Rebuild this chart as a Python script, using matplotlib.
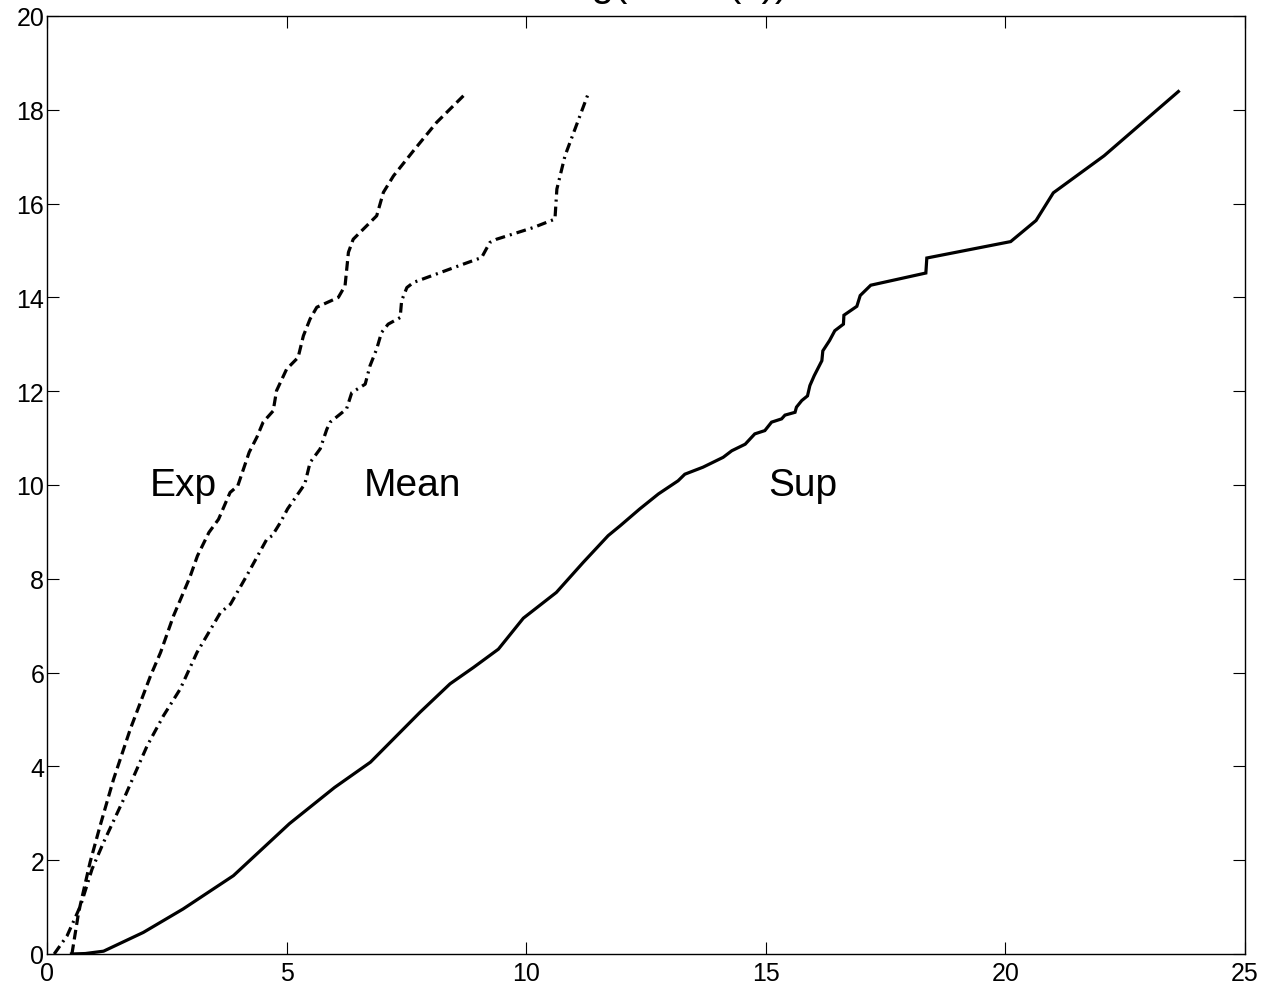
import matplotlib
matplotlib.use('Agg')
import matplotlib.pyplot as plt

# data
sup_x = [0.51, 0.80, 1.18, 2.01, 2.84, 3.89, 5.06, 6.00, 6.75, 7.78, 8.41, 8.90, 9.42, 9.94,
         10.63, 11.19, 11.71, 11.96, 12.37, 12.76, 13.17, 13.31, 13.69, 14.11, 14.29, 14.57,
         14.77, 14.98, 15.12, 15.33, 15.40, 15.61, 15.64, 15.75, 15.87, 15.92, 16.01, 16.08,
         16.17, 16.19, 16.33, 16.44, 16.62, 16.63, 16.90, 16.97, 17.19, 18.34, 18.36, 20.11,
         20.64, 21.00, 22.06, 23.61]
sup_y = [0.00, 0.01, 0.06, 0.46, 0.96, 1.67, 2.78, 3.55, 4.09, 5.15, 5.76, 6.11, 6.50, 7.16,
         7.71, 8.35, 8.92, 9.13, 9.49, 9.81, 10.09, 10.23, 10.38, 10.59, 10.73, 10.87,
         11.09, 11.16, 11.34, 11.41, 11.49, 11.55, 11.66, 11.80, 11.90, 12.12, 12.33, 12.47,
         12.65, 12.86, 13.08, 13.29, 13.43, 13.62, 13.81, 14.04, 14.26, 14.52, 14.84, 15.19,
         15.64, 16.23, 17.02, 18.39]

exp_x = [0.52, 0.66, 0.90, 1.11, 1.39, 1.74, 2.16, 2.37, 2.64, 2.98, 3.14, 3.38, 3.58, 3.82,
         3.98, 4.22, 4.38, 4.51, 4.72, 4.79, 5.00, 5.24, 5.35, 5.49, 5.63, 6.08, 6.22, 6.29,
         6.39, 6.88, 7.02, 7.23, 7.51, 7.65, 8.13, 8.76]
exp_y = [0.00, 0.89, 1.96, 2.74, 3.73, 4.80, 5.93, 6.43, 7.21, 8.03, 8.49, 8.99, 9.27, 9.84,
         9.98, 10.70, 11.02, 11.34, 11.58, 12.01, 12.47, 12.72, 13.18, 13.54, 13.79, 14.00,
         14.25, 14.96, 15.24, 15.74, 16.24, 16.59, 16.95, 17.13, 17.73, 18.37]

mean_x = [0.15, 0.42, 0.70, 0.94, 1.18, 1.60, 2.09, 2.43, 2.78, 3.13, 3.62, 3.83, 4.17, 4.59,
          4.70, 4.87, 5.02, 5.21, 5.38, 5.49, 5.70, 5.84, 5.91, 6.25, 6.36, 6.64, 6.74, 6.88,
          6.98, 7.12, 7.37, 7.40, 7.51, 7.65, 8.69, 9.07, 9.24, 9.38, 10.15, 10.60, 10.64,
          10.81, 11.30]
mean_y = [0.00, 0.39, 1.03, 1.81, 2.38, 3.30, 4.44, 5.08, 5.65, 6.43, 7.28, 7.46, 8.07, 8.85,
          8.92, 9.20, 9.49, 9.77, 10.02, 10.48, 10.77, 11.19, 11.34, 11.62, 11.97, 12.15,
          12.54, 12.90, 13.25, 13.43, 13.57, 13.93, 14.21, 14.32, 14.71, 14.85, 15.17, 15.24,
          15.49, 15.67, 16.31, 17.02, 18.36]

labels = ['Exp', 'Mean', 'Sup']
label_x = [2.84, 7.62, 15.78]
label_y = [10.0, 10.0, 10.0]

xticks = [0, 5, 10, 15, 20, 25]
yticks = [0, 2, 4, 6, 8, 10, 12, 14, 16, 18, 20]

plt.rcParams['font.family'] = ['Liberation Sans', 'DejaVu Sans']
plt.rcParams['lines.scale_dashes'] = False

fig = plt.figure(figsize=(12.67, 10.03), dpi=100)
ax = fig.add_axes([47 / 1267, 48 / 1003, 1198 / 1267, 938 / 1003])

lw = 2.3
ax.plot(sup_x, sup_y, color='black', lw=lw, solid_joinstyle='miter')
l_exp, = ax.plot(exp_x, exp_y, color='black', lw=lw)
l_exp.set_dashes([7, 3.6])
l_mean, = ax.plot(mean_x, mean_y, color='black', lw=lw)
l_mean.set_dashes([7, 3.6, 1.5, 3.6])

for t, x, y in zip(labels, label_x, label_y):
    ax.text(x, y, t, fontsize=28, ha='center', va='center')

ax.set_xlim(0, 25)
ax.set_ylim(0, 20)
ax.set_xticks(xticks)
ax.set_yticks(yticks)
ax.tick_params(direction='in', length=8.5, width=0.8, labelsize=18,
               top=True, right=True)
ax.tick_params(axis='x', pad=5)
ax.tick_params(axis='y', pad=2)
for s in ax.spines.values():
    s.set_linewidth(1.0)

# title sits mostly above the canvas edge, as in the reference
fig.text(560 / 1267, 1.004, 'log(Mean(x))', fontsize=29, ha='left', va='baseline')

fig.savefig('out.png', dpi=100)
